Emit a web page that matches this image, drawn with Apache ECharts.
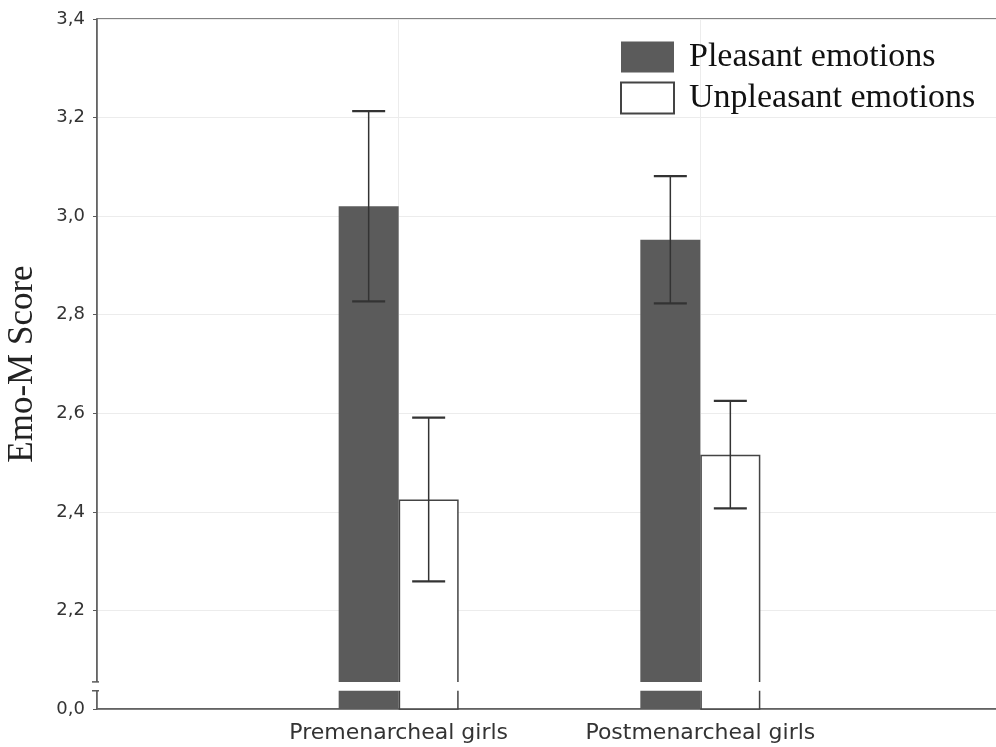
<!DOCTYPE html>
<html><head><meta charset="utf-8">
<script src="https://cdn.jsdelivr.net/npm/echarts@6/dist/echarts.min.js"></script>
<style>html,body{margin:0;padding:0;background:#fff}#c{width:996px;height:747px}</style>
</head><body><div id="c"></div><script>
// ---- data ----
const categories = ['Premenarcheal girls', 'Postmenarcheal girls'];
const seriesNames = ['Pleasant emotions', 'Unpleasant emotions'];
const pleasantMean = [3.02, 2.952];
const pleasantErr = [0.193, 0.129];
const unpleasantMean = [2.425, 2.516];
const unpleasantErr = [0.166, 0.109];
const yTickValues = [2.0, 2.2, 2.4, 2.6, 2.8, 3.0, 3.2, 3.4];
const yTickLabels = ['0,0', '2,2', '2,4', '2,6', '2,8', '3,0', '3,2', '3,4'];
const axisBreak = [2.037, 2.055];

// ---- style constants ----
const BAR_W = 60, CAP_W = 33;
const AXIS_C = '#5a5a5a', DARK = '#5b5b5b', ERR_C = '#333';

const axisCats = [''].concat(categories, ['']);
const pad = arr => ['-'].concat(arr, ['-']);
const errData = (m, e) => m.map((v, i) => [i + 1, v + e[i], v - e[i]]);

function errRenderer(offset) {
  return function (params, api) {
    const hi = api.coord([api.value(0), api.value(1)]);
    const lo = api.coord([api.value(0), api.value(2)]);
    const x = hi[0] + offset, h = CAP_W / 2;
    const st = { stroke: ERR_C, lineWidth: 1.5 };
    const cs = { stroke: ERR_C, lineWidth: 2.2 };
    return { type: 'group', children: [
      { type: 'line', shape: { x1: x, y1: hi[1], x2: x, y2: lo[1] }, style: st },
      { type: 'line', shape: { x1: x - h, y1: hi[1], x2: x + h, y2: hi[1] }, style: cs },
      { type: 'line', shape: { x1: x - h, y1: lo[1], x2: x + h, y2: lo[1] }, style: cs }
    ]};
  };
}

const chart = echarts.init(document.getElementById('c'), null, { renderer: 'canvas' });
chart.setOption({
  animation: false,
  backgroundColor: '#fff',
  grid: { left: 97, top: 19, right: -6, bottom: 38, show: true, borderColor: AXIS_C, borderWidth: 1.5,
    containLabel: false, outerBoundsMode: 'none' },
  legend: {
    data: seriesNames, orient: 'vertical', left: 620, top: 40, padding: 0,
    itemWidth: 53, itemHeight: 31, itemGap: 7, icon: 'rect',
    textStyle: { fontFamily: 'Liberation Serif', fontSize: 34, color: '#111', lineHeight: 31, padding: [0, 0, 0, 10] }
  },
  xAxis: {
    type: 'category', data: axisCats, boundaryGap: false,
    axisLine: { lineStyle: { color: AXIS_C, width: 1.5 } },
    axisTick: { show: false },
    axisLabel: { interval: 0, margin: 13, fontFamily: 'DejaVu Sans', fontSize: 22, color: '#333' },
    splitLine: { show: true, lineStyle: { color: '#ececec', width: 1 } }
  },
  yAxis: {
    type: 'value', min: yTickValues[0], max: yTickValues[yTickValues.length - 1], interval: 0.2,
    name: 'Emo-M Score', nameLocation: 'middle', nameGap: 57,
    nameTextStyle: { fontFamily: 'Liberation Serif', fontSize: 35, color: '#222' },
    axisLine: { show: true, lineStyle: { color: AXIS_C, width: 1.5 } },
    axisTick: { show: true, inside: false, length: 4, lineStyle: { color: AXIS_C } },
    axisLabel: {
      margin: 12, fontFamily: 'DejaVu Sans', fontSize: 18, color: '#333',
      formatter: v => { const i = yTickValues.findIndex(t => Math.abs(t - v) < 1e-6); return i >= 0 ? yTickLabels[i] : ''; }
    },
    splitLine: { show: true, lineStyle: { color: '#ececec', width: 1 } }
  },
  series: [
    { name: seriesNames[0], type: 'bar', data: pad(pleasantMean), barWidth: BAR_W, barGap: '0%',
      itemStyle: { color: DARK }, clip: true },
    { name: seriesNames[1], type: 'bar', data: pad(unpleasantMean), barWidth: BAR_W, barGap: '0%',
      itemStyle: { color: '#fff', borderColor: '#444', borderWidth: 1.5 }, clip: true },
    { name: 'err1', type: 'custom', z: 10, data: errData(pleasantMean, pleasantErr),
      encode: { x: 0, y: [1, 2] }, renderItem: errRenderer(-BAR_W / 2), silent: true,
      markArea: { silent: true, z: 10, itemStyle: { color: '#fff', opacity: 1, borderWidth: 0 },
        data: [[{ yAxis: axisBreak[0] }, { yAxis: axisBreak[1] }]] } },
    { name: 'err2', type: 'custom', z: 10, data: errData(unpleasantMean, unpleasantErr),
      encode: { x: 0, y: [1, 2] }, renderItem: errRenderer(BAR_W / 2), silent: true }
  ]
});

// axis break marks on the y axis, placed via the library's scale
const pLo = chart.convertToPixel({ gridIndex: 0 }, [0, axisBreak[0]]);
const pHi = chart.convertToPixel({ gridIndex: 0 }, [0, axisBreak[1]]);
const x0 = pLo[0];
chart.setOption({
  graphic: [
    { type: 'rect', z: 100, shape: { x: x0 - 2, y: pHi[1], width: 4, height: pLo[1] - pHi[1] }, style: { fill: '#fff' } },
    { type: 'line', z: 101, shape: { x1: x0 - 5, y1: pHi[1], x2: x0 + 2, y2: pHi[1] }, style: { stroke: AXIS_C, lineWidth: 1.5 } },
    { type: 'line', z: 101, shape: { x1: x0 - 5, y1: pLo[1], x2: x0 + 2, y2: pLo[1] }, style: { stroke: AXIS_C, lineWidth: 1.5 } }
  ]
});
</script></body></html>
